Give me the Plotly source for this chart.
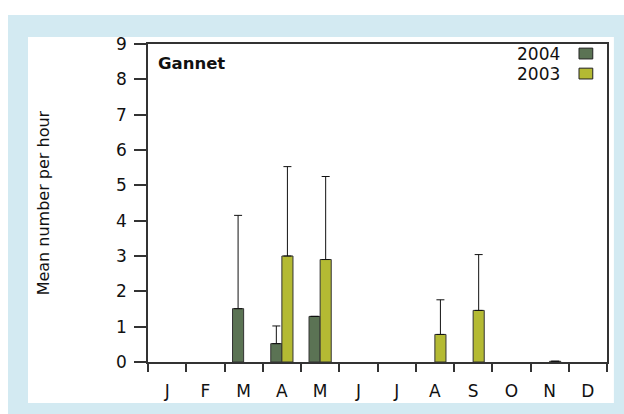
import plotly.graph_objects as go

# Monthly gannet sightings (mean number per hour) with upper error bars
months = ["J", "F", "M", "A", "M", "J", "J", "A", "S", "O", "N", "D"]
mean_2004 = [None, None, 1.51, 0.52, 1.29, None, None, None, None, None, None, None]
upper_2004 = [None, None, 4.15, 1.02, None, None, None, None, None, None, None, None]
mean_2003 = [None, None, None, 3.00, 2.90, None, None, 0.78, 1.46, None, 0.02, None]
upper_2003 = [None, None, None, 5.53, 5.25, None, None, 1.76, 3.04, None, None, None]

COL_2004 = "#5b7354"
COL_2003 = "#b4ba33"
BLUE = "#d3eaf2"


def err_len(mean, upper):
    return [None if (m is None or u is None) else u - m for m, u in zip(mean, upper)]


x = list(range(len(months)))

fig = go.Figure()
for name, vals, up, col in [("2004", mean_2004, upper_2004, COL_2004),
                            ("2003", mean_2003, upper_2003, COL_2003)]:
    fig.add_trace(go.Bar(
        x=x, y=vals, name=name,
        marker=dict(color=col, line=dict(color="#333333", width=1)),
        error_y=dict(type="data", symmetric=False, array=err_len(vals, up),
                     arrayminus=[0] * len(x), color="#111111", thickness=1, width=4),
        showlegend=False,
    ))

font = "DejaVu Sans, sans-serif"

# background panels
shapes = [
    dict(type="rect", xref="paper", yref="paper", x0=-0.305, x1=1.04, y0=-0.17, y1=1.091,
         fillcolor=BLUE, line=dict(width=0), layer="below"),
    dict(type="rect", xref="paper", yref="paper", x0=-0.2614, x1=1.015, y0=-0.129, y1=1.022,
         fillcolor="white", line=dict(width=0), layer="below"),
]
annotations = [
    dict(text="Mean number per hour", textangle=-90, xref="paper", yref="paper",
         x=-0.228, y=0.5, xanchor="center", yanchor="middle", showarrow=False,
         font=dict(size=16, color="#111111", family=font)),
    dict(text="<b>Gannet</b>", xref="paper", yref="paper", x=0.017, y=0.94,
         xanchor="left", yanchor="middle", showarrow=False,
         font=dict(size=16.5, color="#111111", family=font)),
]
# legend: labels with swatches to their right
for label, col, yc in [("2004", COL_2004, 0.970), ("2003", COL_2003, 0.907)]:
    annotations.append(dict(text=label, xref="paper", yref="paper", x=0.903, y=yc,
                            xanchor="right", yanchor="middle", showarrow=False,
                            font=dict(size=17, color="#111111", family=font)))
    shapes.append(dict(type="rect", xref="paper", yref="paper", x0=0.939, x1=0.969,
                       y0=yc - 0.017, y1=yc + 0.017, fillcolor=col,
                       line=dict(color="#222222", width=1)))

fig.update_layout(
    width=624, height=414,
    margin=dict(l=148, r=17, t=44, b=52),
    paper_bgcolor="white", plot_bgcolor="white",
    barmode="group", bargap=0.42, bargroupgap=0,
    font=dict(family=font, size=17, color="#111111"),
    shapes=shapes, annotations=annotations,
    xaxis=dict(range=[-0.5, 11.5], tickmode="array", tickvals=x, ticktext=months,
               ticks="outside", ticklen=13, tickcolor="rgba(0,0,0,0)",
               showline=True, linecolor="#333333", linewidth=1.5, mirror=True,
               showgrid=False, zeroline=False, tickfont=dict(size=17),
               minor=dict(tickmode="array", tickvals=[i - 0.5 for i in range(13)],
                          ticks="outside", ticklen=8, tickcolor="#333333", tickwidth=1.5)),
    yaxis=dict(range=[0, 9], dtick=1, ticks="outside", ticklen=12, tickwidth=1.5,
               tickcolor="#333333", showline=True, linecolor="#333333", linewidth=1.5,
               mirror=True, showgrid=False, zeroline=False, tickfont=dict(size=17),
               ticklabelstandoff=4),
)

fig.write_html("out.html")
